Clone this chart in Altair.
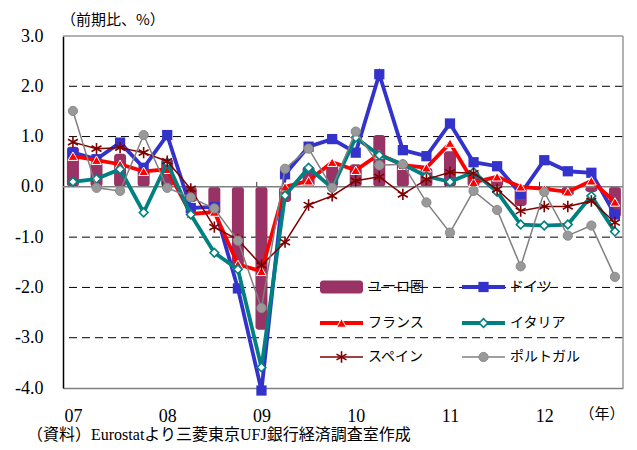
import altair as alt
import pandas as pd

# ---------------- data ----------------
year_labels = ["07", "08", "09", "10", "11", "12"]
quarter_index = list(range(24))  # 2007Q1 ... 2012Q4

euro = [0.80, 0.50, 0.66, 0.33, 0.56, -0.30, -0.55, -1.65, -2.84, -0.30, 0.41, 0.47,
        0.45, 1.03, 0.48, 0.38, 0.71, 0.30, 0.18, -0.38, -0.05, -0.18, -0.10, -0.61]
germany = [0.68, 0.55, 0.88, 0.38, 1.03, -0.42, -0.40, -2.02, -4.05, 0.25, 0.80, 0.95,
           0.68, 2.24, 0.73, 0.61, 1.26, 0.49, 0.41, -0.14, 0.53, 0.31, 0.28, -0.55]
france = [0.61, 0.53, 0.45, 0.31, 0.35, -0.54, -0.50, -1.54, -1.68, 0.00, 0.12, 0.49,
          0.33, 0.65, 0.43, 0.38, 0.87, 0.09, 0.20, 0.00, -0.04, -0.10, 0.12, -0.30]
italy = [0.10, 0.16, 0.35, -0.51, 0.48, -0.55, -1.31, -1.64, -3.59, -0.17, 0.38, -0.02,
         0.98, 0.63, 0.45, 0.21, 0.10, 0.29, -0.10, -0.75, -0.77, -0.75, -0.18, -0.89]
spain = [0.89, 0.76, 0.78, 0.68, 0.51, -0.04, -0.80, -1.05, -1.56, -1.10, -0.36, -0.18,
         0.12, 0.20, -0.15, 0.15, 0.29, 0.27, -0.05, -0.48, -0.39, -0.39, -0.28, -0.71]
portugal = [1.51, -0.02, -0.08, 1.03, -0.02, -0.21, -0.43, -1.07, -2.41, 0.36, 0.76, -0.02,
            1.10, 0.43, 0.45, -0.31, -0.91, -0.08, -0.46, -1.58, -0.10, -0.97, -0.77, -1.79]

legend_names = ["ユーロ圏", "ドイツ", "フランス", "イタリア", "スペイン", "ポルトガル"]
y_ticks = [-4, -3, -2, -1, 0, 1, 2, 3]
grid_values = [1, 2, -1, -2, -3]
year_tick_pos = [3.8, 7.8, 11.8, 15.8, 19.8]

title_text = "（前期比、%）"
unit_text = "（年）"
source_text = "（資料）Eurostatより三菱東京UFJ銀行経済調査室作成"

# ---------------- styling ----------------
W, H = 560, 352
JP = "Noto Sans CJK JP"
SERIF = "Liberation Serif"
SOURCE_FONT = "'Liberation Serif', 'Noto Sans CJK JP'"

C_EURO = "#993366"
C_DE = "#3333CC"
C_FR = "#FF0000"
C_IT = "#008080"
C_ES = "#800000"
C_PT = "#808080"
ASTERISK = "M0,-1L0,1M-0.87,-0.5L0.87,0.5M-0.87,0.5L0.87,-0.5"

x_scale = alt.Scale(domain=[-0.21, 23.13], nice=False, zero=False)
y_scale = alt.Scale(domain=[-4, 3], nice=False, zero=False)

label_expr_x = "[" + ",".join(f"'{y}'" for y in year_labels) + "][datum.value / 4]"
AX_X = alt.Axis(values=[0, 4, 8, 12, 16, 20], labelExpr=label_expr_x,
                title=None, ticks=False, grid=False,
                domainColor="#808080", domainWidth=1.5,
                labelPadding=19, labelFont=SERIF, labelFontSize=18,
                labelColor="#000000")
AX_Y = alt.Axis(values=y_ticks,
                labelExpr="replace(format(datum.value, '.1f'), '\u2212', '-')",
                title=None, ticks=False, grid=False,
                domainColor="#000000", domainWidth=1.5,
                labelPadding=20, labelFont=SERIF, labelFontSize=18,
                labelColor="#000000")

df = pd.DataFrame({
    "idx": quarter_index,
    "euro": euro,
    "germany": germany,
    "france": france,
    "italy": italy,
    "spain": spain,
    "portugal": portugal,
})

base = alt.Chart(df)
X = alt.X("idx:Q", scale=x_scale, axis=AX_X)


def Y(field):
    return alt.Y(field, scale=y_scale, axis=AX_Y)


# gridlines
grid = alt.Chart(pd.DataFrame({"v": grid_values})).mark_rule(
    color="#000000", strokeWidth=1, strokeDash=[8, 5]
).encode(y=Y("v:Q"))

top_line = alt.Chart(pd.DataFrame({"v": [3]})).mark_rule(
    color="#999999", strokeWidth=1.5
).encode(y=Y("v:Q"))

right_line = alt.Chart(pd.DataFrame({"v": [0]})).mark_rule(
    color="#999999", strokeWidth=1.5
).encode(x=alt.value(W))

bars = base.mark_bar(color=C_EURO, width=12, cornerRadius=3).encode(
    x=X, y=Y("euro:Q"), y2=alt.datum(0),
)

zero_line = alt.Chart(pd.DataFrame({"v": [0]})).mark_rule(
    color="#808080", strokeWidth=1.5
).encode(y=Y("v:Q"))

year_ticks = alt.Chart(pd.DataFrame({"p": year_tick_pos})).transform_calculate(
    y0="0", y1="0.1"
).mark_rule(color="#333333", strokeWidth=1).encode(
    x=alt.X("p:Q", scale=x_scale, axis=AX_X),
    y=Y("y0:Q"),
    y2="y1:Q",
)


def series(field, color, lw, point_kwargs):
    line = base.mark_line(color=color, strokeWidth=lw).encode(x=X, y=Y(f"{field}:Q"))
    pts = base.mark_point(**point_kwargs).encode(x=X, y=Y(f"{field}:Q"))
    return line, pts


de_kw = dict(shape="square", size=105, filled=True, color=C_DE, opacity=1)
fr_kw = dict(shape="triangle-up", size=95, filled=True, fill=C_FR, stroke="#FFFFFF",
             strokeWidth=1, opacity=1)
it_kw = dict(shape="diamond", size=75, filled=True, fill="#FFFFFF", stroke=C_IT,
             strokeWidth=1.6, opacity=1)
es_kw = dict(shape=ASTERISK, size=130, filled=False, stroke=C_ES, strokeWidth=1.6,
             opacity=1)
pt_kw = dict(shape="circle", size=85, filled=True, fill="#999999", stroke="#8a8a8a",
             strokeWidth=1, opacity=1)

de_l, de_p = series("germany", C_DE, 3.8, de_kw)
fr_l, fr_p = series("france", C_FR, 3.8, fr_kw)
it_l, it_p = series("italy", C_IT, 3.8, it_kw)
es_l, es_p = series("spain", C_ES, 1.5, es_kw)
pt_l, pt_p = series("portugal", C_PT, 1.5, pt_kw)

# ---------------- legend (inside plot) ----------------
one = pd.DataFrame({"a": [0]})
col_x = [257, 399]
row_y = [251, 287, 321]
sym_w = 43
legend_layers = []

entries = [
    ("bar", C_EURO, 0, 0, None, 0),
    ("line", C_DE, 1, 0, de_kw, 3.8),
    ("line", C_FR, 0, 1, fr_kw, 3.8),
    ("line", C_IT, 1, 1, it_kw, 3.8),
    ("line", C_ES, 0, 2, es_kw, 1.5),
    ("line", C_PT, 1, 2, pt_kw, 1.5),
]
for name, (kind, color, c, r, kw, lw) in zip(legend_names, entries):
    x0 = col_x[c]
    yy = row_y[r]
    if kind == "bar":
        legend_layers.append(alt.Chart(one).mark_rect(color=color, cornerRadius=3).encode(
            x=alt.value(x0), x2=alt.value(x0 + sym_w),
            y=alt.value(yy - 6.5), y2=alt.value(yy + 6.5)))
    else:
        legend_layers.append(alt.Chart(one).mark_rule(color=color, strokeWidth=lw).encode(
            x=alt.value(x0), x2=alt.value(x0 + sym_w), y=alt.value(yy)))
        legend_layers.append(alt.Chart(one).mark_point(**kw).encode(
            x=alt.value(x0 + sym_w / 2), y=alt.value(yy)))
    legend_layers.append(alt.Chart(one).mark_text(
        text=name, font=JP, fontSize=14, color="#000000", align="left", baseline="middle"
    ).encode(x=alt.value(x0 + sym_w + 5), y=alt.value(yy)))

# ---------------- texts ----------------
title_mark = alt.Chart(one).mark_text(
    text=title_text, font=JP, fontSize=15, color="#000000", align="left", baseline="middle"
).encode(x=alt.value(-2), y=alt.value(-16))

unit_mark = alt.Chart(one).mark_text(
    text=unit_text, font=JP, fontSize=15, color="#000000", align="center", baseline="middle"
).encode(x=alt.value(539), y=alt.value(378))

source_mark = alt.Chart(one).mark_text(
    text=source_text, font=SOURCE_FONT, fontSize=16, color="#000000", align="left",
    baseline="middle"
).encode(x=alt.value(-36), y=alt.value(399))

chart = alt.layer(
    grid, top_line, right_line, bars, zero_line, year_ticks,
    de_l, de_p, fr_l, fr_p, it_l, it_p, es_l, es_p, pt_l, pt_p,
    *legend_layers, title_mark, unit_mark, source_mark,
).properties(
    width=W, height=H,
    autosize=alt.AutoSizeParams(type="none"),
    padding={"left": 55, "top": 28, "right": 6, "bottom": 54},
    background="#FFFFFF",
).configure_view(stroke=None)

chart.save("out.html", embed_options={"renderer": "svg", "actions": False})
